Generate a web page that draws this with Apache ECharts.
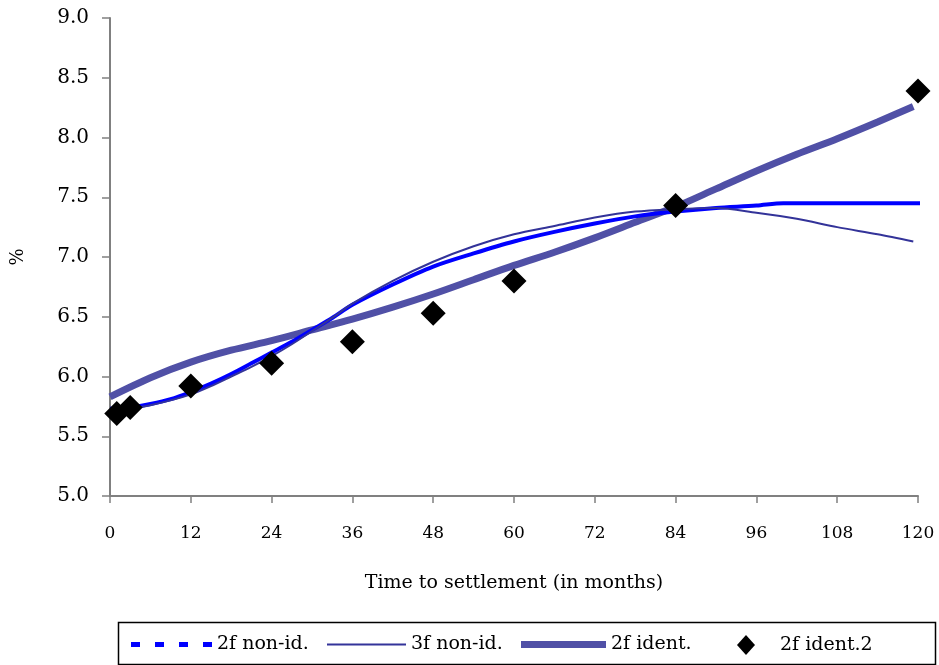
<!DOCTYPE html>
<html>
<head>
<meta charset="utf-8">
<script src="https://cdn.jsdelivr.net/npm/echarts@6/dist/echarts.min.js"></script>
<style>html,body{margin:0;padding:0;background:#fff}#c{width:939px;height:665px}</style>
</head>
<body>
<div id="c"></div>
<script>
var xTicks = [0, 12, 24, 36, 48, 60, 72, 84, 96, 108, 120];
var yTicks = [5.0, 5.5, 6.0, 6.5, 7.0, 7.5, 8.0, 8.5, 9.0];

var nonId2Months = [0, 3, 6, 9, 12, 15, 18, 21, 24, 27, 30, 33, 36, 42, 48, 54, 60, 66, 72, 78, 84, 90, 96, 100, 120, 121.5];
var nonId2Values = [5.73, 5.74, 5.77, 5.81, 5.87, 5.94, 6.02, 6.11, 6.20, 6.29, 6.39, 6.49, 6.60, 6.77, 6.92, 7.03, 7.13, 7.21, 7.28, 7.34, 7.38, 7.41, 7.43, 7.45, 7.45, 7.45];

var nonId3Months = [0, 3, 6, 9, 12, 15, 18, 21, 24, 27, 30, 33, 36, 42, 48, 54, 60, 66, 72, 78, 84, 90, 96, 102, 108, 114, 119.3];
var nonId3Values = [5.72, 5.73, 5.76, 5.80, 5.85, 5.92, 6.00, 6.08, 6.17, 6.27, 6.38, 6.49, 6.61, 6.80, 6.96, 7.09, 7.19, 7.26, 7.33, 7.38, 7.40, 7.41, 7.37, 7.32, 7.25, 7.19, 7.13];

var identMonths = [0, 6, 12, 18, 24, 30, 36, 42, 48, 54, 60, 66, 72, 78, 84, 90, 96, 102, 108, 114, 119.3];
var identValues = [5.83, 5.99, 6.12, 6.22, 6.30, 6.39, 6.48, 6.58, 6.69, 6.81, 6.93, 7.04, 7.16, 7.29, 7.42, 7.57, 7.72, 7.86, 7.99, 8.13, 8.26];

var ident2Months = [1, 3, 12, 24, 36, 48, 60, 84, 120];
var ident2Values = [5.69, 5.74, 5.92, 6.11, 6.29, 6.53, 6.80, 7.43, 8.39];

var names = ['2f non-id.', '3f non-id.', '2f ident.', '2f ident.2'];
var xTitle = 'Time to settlement (in months)';
var yTitle = '%';

function zip(a, b) { return a.map(function (v, i) { return [v, b[i]]; }); }

var FONT = 'DejaVu Serif';
var C_BLUE = '#0000FF', C_NAVY = '#333399', C_SLATE = '#5050A6';
var chart = echarts.init(document.getElementById('c'), null, {renderer: 'canvas'});
var legendText = {fontFamily: FONT, fontSize: 19, color: '#000'};

chart.setOption({
  animation: false,
  backgroundColor: '#fff',
  grid: {left: 110, right: 21, top: 18, bottom: 169},
  xAxis: {
    type: 'value', min: 0, max: 120, interval: 12,
    name: xTitle, nameLocation: 'middle', nameGap: 78,
    nameTextStyle: {fontFamily: FONT, fontSize: 19, color: '#000'},
    axisLine: {show: true, onZero: false, lineStyle: {color: '#808080', width: 2}},
    axisTick: {show: true, length: 7, lineStyle: {color: '#808080', width: 1.5}},
    axisLabel: {fontFamily: FONT, fontSize: 17, color: '#000', margin: 29,
      formatter: function (v) { return xTicks.indexOf(v) >= 0 ? String(v) : ''; }},
    splitLine: {show: false}
  },
  yAxis: {
    type: 'value', min: 5, max: 9, interval: 0.5,
    name: yTitle, nameLocation: 'middle', nameGap: 83, nameRotate: 90,
    nameTextStyle: {fontFamily: FONT, fontSize: 18, color: '#000'},
    axisLine: {show: true, onZero: false, lineStyle: {color: '#808080', width: 2}},
    axisTick: {show: true, length: 8, lineStyle: {color: '#808080', width: 1.5}},
    axisLabel: {fontFamily: FONT, fontSize: 20, color: '#000', margin: 21,
      formatter: function (v) { return v.toFixed(1); }},
    splitLine: {show: false}
  },
  graphic: [{
    type: 'rect', left: 116, top: 620, shape: {width: 817, height: 42},
    style: {fill: 'none', stroke: '#000', lineWidth: 1.5}, silent: true
  }],
  legend: [
    {left: 126, top: 630, itemWidth: 81, itemHeight: 5, textStyle: legendText,
      data: [{name: names[0], icon: 'path://M0 0h9v5h-9zM24 0h9v5h-9zM48 0h9v5h-9zM72 0h9v5h-9z', itemStyle: {color: C_BLUE}}]},
    {left: 322, top: 630, itemWidth: 79, itemHeight: 2, textStyle: legendText,
      data: [{name: names[1], icon: 'path://M0 0h79v2h-79z', itemStyle: {color: C_NAVY}}]},
    {left: 516, top: 630, itemWidth: 85, itemHeight: 7, textStyle: legendText,
      data: [{name: names[2], icon: 'path://M0 0h85v7h-85z', itemStyle: {color: C_SLATE}}]},
    {left: 732, top: 630, itemWidth: 18, itemHeight: 20, textStyle: Object.assign({padding: [0, 0, 0, 20]}, legendText),
      data: [{name: names[3], icon: 'diamond', itemStyle: {color: '#000'}}]}
  ],
  series: [
    {name: names[2], type: 'line', data: zip(identMonths, identValues), smooth: 0.3,
      showSymbol: false, symbol: 'none', lineStyle: {width: 7, color: C_SLATE}, itemStyle: {color: C_SLATE}, z: 2},
    {name: names[0], type: 'line', data: zip(nonId2Months, nonId2Values), smooth: 0.3, clip: false,
      showSymbol: false, symbol: 'none', lineStyle: {width: 4, color: C_BLUE}, itemStyle: {color: C_BLUE}, z: 3},
    {name: names[1], type: 'line', data: zip(nonId3Months, nonId3Values), smooth: 0.3,
      showSymbol: false, symbol: 'none', lineStyle: {width: 2, color: C_NAVY}, itemStyle: {color: C_NAVY}, z: 4},
    {name: names[3], type: 'scatter', data: zip(ident2Months, ident2Values),
      symbol: 'diamond', symbolSize: 25, itemStyle: {color: '#000', opacity: 1}, z: 5}
  ]
});
</script>
</body>
</html>
